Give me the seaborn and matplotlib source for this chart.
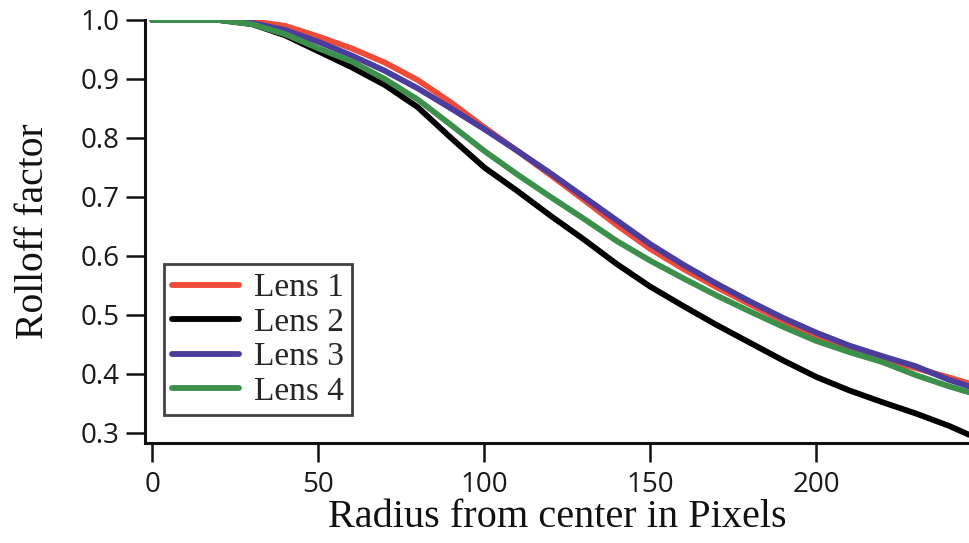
import numpy as np
import pandas as pd
import matplotlib
matplotlib.use("Agg")
import matplotlib.pyplot as plt
import seaborn as sns

radius = [0, 10, 20, 30, 40, 50, 60, 70, 80, 90, 100, 110, 120, 130, 140,
          150, 160, 170, 180, 190, 200, 210, 220, 230, 240, 246]
lens1 = [1.0, 1.0, 1.0, 0.998, 0.990, 0.972, 0.952, 0.928, 0.898, 0.860,
         0.818, 0.778, 0.737, 0.695, 0.652, 0.612, 0.578, 0.547, 0.518,
         0.490, 0.465, 0.443, 0.425, 0.410, 0.394, 0.384]
lens2 = [1.0, 1.0, 1.0, 0.993, 0.974, 0.947, 0.920, 0.890, 0.852, 0.800,
         0.750, 0.710, 0.668, 0.628, 0.586, 0.548, 0.515, 0.483, 0.453,
         0.423, 0.395, 0.372, 0.352, 0.333, 0.312, 0.297]
lens3 = [1.0, 1.0, 1.0, 0.995, 0.983, 0.963, 0.940, 0.914, 0.884, 0.850,
         0.815, 0.778, 0.740, 0.700, 0.660, 0.620, 0.585, 0.553, 0.523,
         0.495, 0.470, 0.448, 0.430, 0.413, 0.390, 0.379]
lens4 = [1.0, 1.0, 1.0, 0.993, 0.976, 0.952, 0.930, 0.900, 0.865, 0.822,
         0.778, 0.738, 0.700, 0.663, 0.625, 0.592, 0.562, 0.533, 0.506,
         0.480, 0.456, 0.437, 0.420, 0.398, 0.379, 0.369]
series_names = ["Lens 1", "Lens 2", "Lens 3", "Lens 4"]
colors = ["#f04a38", "#000000", "#4a3d9e", "#3d8f4c"]
xticks = [0, 50, 100, 150, 200]
yticks = [0.3, 0.4, 0.5, 0.6, 0.7, 0.8, 0.9, 1.0]

frames = []
for name, vals in zip(series_names, [lens1, lens2, lens3, lens4]):
    frames.append(pd.DataFrame({"radius": radius, "rolloff": vals, "lens": name}))
df = pd.concat(frames, ignore_index=True)

sns.set_style("ticks")
plt.rcParams["font.family"] = ["Open Sans", "DejaVu Sans"]

fig = plt.figure(figsize=(9.69, 5.43), dpi=100)
ax = fig.add_axes([145 / 969, 100 / 543, (969 - 145) / 969, (443 - 20) / 543])

sns.lineplot(data=df, x="radius", y="rolloff", hue="lens",
             hue_order=series_names, palette=colors, linewidth=4.2,
             ax=ax, legend=True)

ax.set_xlim(-2.2, 246)
ax.set_ylim(0.283, 1.0)
ax.set_xticks(xticks)
ax.set_xticklabels([str(t) for t in xticks])
ax.set_yticks(yticks)
ax.set_yticklabels([f"{t:.1f}" for t in yticks])

for s in ["top", "right"]:
    ax.spines[s].set_visible(False)
for s in ["left", "bottom"]:
    ax.spines[s].set_linewidth(2.2)
    ax.spines[s].set_color("#111111")

ax.tick_params(axis="both", which="major", direction="out", length=13.5,
               width=1.8, color="#111111", labelsize=20,
               labelcolor="#1a1a1a", bottom=True, left=True)
ax.tick_params(axis="y", pad=5)
ax.tick_params(axis="x", pad=7)

serif = ["Liberation Serif", "DejaVu Serif"]
ax.set_xlabel("Radius from center in Pixels", fontsize=29, family=serif,
              color="#111111", labelpad=0)
ax.set_ylabel("Rolloff factor", fontsize=28.5, family=serif,
              color="#111111", labelpad=20)

leg = ax.legend(loc="lower left", bbox_to_anchor=(0.023, 0.066),
                borderaxespad=0, frameon=True, fancybox=False,
                prop={"family": serif, "size": 24}, handlelength=2.0,
                handletextpad=0.45, labelspacing=0.12, borderpad=0.25,
                title=None)
leg.get_frame().set_edgecolor("#111111")
leg.get_frame().set_linewidth(2)
for line in leg.get_lines():
    line.set_linewidth(4.2)

fig.savefig("out.png", dpi=100)
